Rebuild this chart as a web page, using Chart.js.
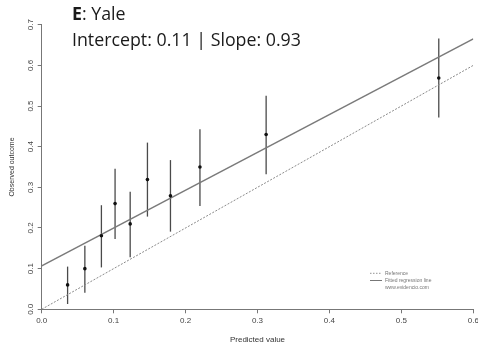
<!DOCTYPE html>
<html><head><meta charset="utf-8">
<script src="https://cdn.jsdelivr.net/npm/chart.js@4/dist/chart.umd.min.js"></script>
<style>html,body{margin:0;padding:0;background:#fff}#wrap{width:478px;height:349px;position:relative}</style>
</head><body><div id="wrap"><canvas id="c" width="478" height="349"></canvas></div>
<script>
// ---- data ----
const predicted = [0.036, 0.060, 0.083, 0.102, 0.123, 0.147, 0.179, 0.220, 0.312, 0.552];
const observed  = [0.060, 0.100, 0.181, 0.260, 0.210, 0.319, 0.279, 0.350, 0.430, 0.569];
const ciLower   = [0.013, 0.041, 0.103, 0.173, 0.128, 0.228, 0.191, 0.254, 0.332, 0.472];
const ciUpper   = [0.105, 0.156, 0.256, 0.346, 0.289, 0.410, 0.367, 0.443, 0.525, 0.666];
const intercept = 0.107;
const slope = 0.93;
const xRange = [0, 0.6];
const yRange = [0, 0.7];
const xTicks = [0, 0.1, 0.2, 0.3, 0.4, 0.5, 0.6];
const yTicks = [0, 0.1, 0.2, 0.3, 0.4, 0.5, 0.6, 0.7];
const titleLine1Bold = "E";
const titleLine1Rest = ": Yale";
const titleLine2 = "Intercept: 0.11 | Slope: 0.93";
const legendLabels = ["Reference", "Fitted regression line", "www.evidencio.com"];

const pts = predicted.map((x, i) => ({x, y: observed[i]}));
const fitLine = xRange.map(x => ({x, y: intercept + slope * x}));
const refLine = xRange.map(x => ({x, y: x}));

const errorBars = {
  id: 'errorBars',
  beforeDatasetsDraw(chart) {
    const {ctx, scales: {x, y}} = chart;
    ctx.save();
    ctx.strokeStyle = '#4a4a4a';
    ctx.lineWidth = 1.3;
    predicted.forEach((p, i) => {
      const px = x.getPixelForValue(p);
      ctx.beginPath();
      ctx.moveTo(px, y.getPixelForValue(ciLower[i]));
      ctx.lineTo(px, y.getPixelForValue(ciUpper[i]));
      ctx.stroke();
    });
    ctx.restore();
  }
};

const texts = {
  id: 'texts',
  afterDraw(chart) {
    const {ctx} = chart;
    ctx.save();
    ctx.fillStyle = '#1a1a1a';
    ctx.textBaseline = 'alphabetic';
    ctx.textAlign = 'left';
    ctx.font = 'bold 17.8px "Open Sans"';
    ctx.fillText(titleLine1Bold, 72, 19.5);
    const w = ctx.measureText(titleLine1Bold).width;
    ctx.font = '17.8px "Open Sans"';
    ctx.fillText(titleLine1Rest, 72 + w, 19.5);
    ctx.fillText(titleLine2, 72, 46);
    // legend
    const lx = 370, ly = [273.3, 280.5, 287.5];
    ctx.strokeStyle = '#777';
    ctx.lineWidth = 0.8;
    ctx.setLineDash([1.5, 1.5]);
    ctx.beginPath(); ctx.moveTo(lx, ly[0]); ctx.lineTo(lx + 12, ly[0]); ctx.stroke();
    ctx.setLineDash([]);
    ctx.lineWidth = 1;
    ctx.beginPath(); ctx.moveTo(lx, ly[1]); ctx.lineTo(lx + 12, ly[1]); ctx.stroke();
    ctx.fillStyle = '#777';
    ctx.font = '5px "Liberation Sans"';
    ctx.textBaseline = 'middle';
    legendLabels.forEach((t, i) => ctx.fillText(t, lx + 15, ly[i]));
    ctx.restore();
  }
};

function fixPad(scale) { scale.paddingLeft = 0; scale.paddingRight = 0; scale.paddingTop = 0; scale.paddingBottom = 0; }

new Chart(document.getElementById('c'), {
  type: 'scatter',
  data: {
    datasets: [
      {type: 'line', data: refLine, borderColor: '#8a8a8a', borderWidth: 1, borderDash: [2, 1.5], pointRadius: 0, fill: false, order: 3},
      {type: 'line', data: fitLine, borderColor: '#7a7a7a', borderWidth: 1.5, pointRadius: 0, fill: false, order: 2},
      {data: pts, backgroundColor: '#111', borderColor: '#111', pointRadius: 1.8, borderWidth: 0, order: 1}
    ]
  },
  options: {
    responsive: false,
    animation: false,
    events: [],
    layout: {padding: {left: 0, right: 4.7, top: 24.7, bottom: 0}},
    plugins: {legend: {display: false}, tooltip: {enabled: false}},
    scales: {
      x: {
        type: 'linear', min: xRange[0], max: xRange[1],
        afterBuildTicks: s => { s.ticks = xTicks.map(v => ({value: v})); },
        afterFit: s => { s.height = 349 - 309.3; fixPad(s); },
        ticks: {callback: v => v.toFixed(1), font: {family: '"Liberation Sans"', size: 8}, color: '#444', padding: 3, maxRotation: 0, autoSkip: false},
        grid: {display: true, drawOnChartArea: false, drawTicks: true, tickLength: 4, color: '#777', lineWidth: 1},
        border: {display: true, color: '#777', width: 1},
        title: {display: true, text: 'Predicted value', font: {family: '"Liberation Sans"', size: 8}, color: '#333', padding: {top: 0, bottom: 4}}
      },
      y: {
        type: 'linear', min: yRange[0], max: yRange[1],
        afterBuildTicks: s => { s.ticks = yTicks.map(v => ({value: v})); },
        afterFit: s => { s.width = 41.7; fixPad(s); },
        ticks: {callback: v => v.toFixed(1), font: {family: '"Liberation Sans"', size: 8}, color: '#444', padding: 1, minRotation: 90, maxRotation: 90, crossAlign: 'center', autoSkip: false},
        grid: {display: true, drawOnChartArea: false, drawTicks: true, tickLength: 4, color: '#777', lineWidth: 1},
        border: {display: true, color: '#777', width: 1},
        title: {display: true, text: 'Observed outcome', font: {family: '"Liberation Sans"', size: 7}, color: '#333', padding: {top: 8, bottom: 0}}
      }
    }
  },
  plugins: [errorBars, texts]
});
</script></body></html>
